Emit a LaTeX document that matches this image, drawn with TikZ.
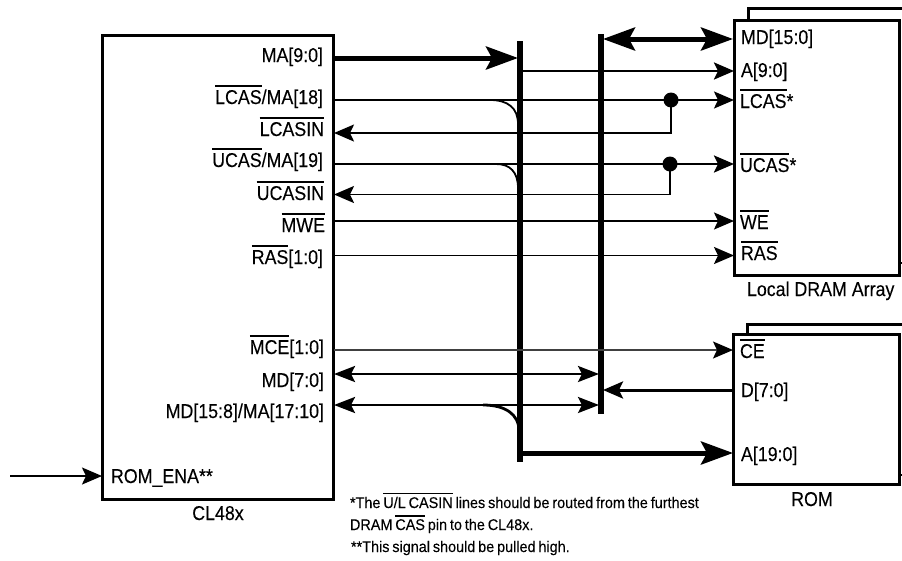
\documentclass[tikz,border=0pt]{standalone}
\usepackage{fontspec}
\setmainfont[FakeStretch=0.89,FakeBold=0.15]{Liberation Sans}
\newfontfamily\notefont[FakeStretch=0.93,WordSpace=0.72,FakeBold=0.12]{Liberation Sans}
\usetikzlibrary{arrows.meta}
\newcommand\ovl[1]{\leavevmode\vbox{\hrule height 0.075em\kern 0.17em\hbox{#1}}}
\newcommand\lbl{\fontsize{20}{22}\selectfont}
\newcommand\fnt{\notefont\fontsize{15.5}{17}\selectfont}
\tikzset{
  boxx/.style={draw=black,line width=3pt,fill=white,rectangle,inner sep=0pt},
  lab/.style={inner sep=0pt,outer sep=0pt,font=\lbl,text=black},
  labr/.style={lab,anchor=base east},
  labl/.style={lab,anchor=base west},
  note/.style={inner sep=0pt,outer sep=0pt,font=\fnt,anchor=base west},
  bus/.style={line width=5.5pt,line cap=butt},
  sig/.style={line width=1.9pt},
  med/.style={line width=2.6pt},
  hvy/.style={line width=5pt},
  tipS/.style={-{Stealth[length=20pt,width=17pt,inset=4pt,color=black]}},
  tipL/.style={-{Stealth[length=32pt,width=23pt,inset=6pt]}},
  tipB/.style={{Stealth[length=21pt,width=16pt,inset=4pt]}-{Stealth[length=21pt,width=16pt,inset=4pt]}},
  tipD/.style={{Stealth[length=32pt,width=23pt,inset=6pt]}-{Stealth[length=32pt,width=23pt,inset=6pt]}},
  dotn/.style={circle,fill=black,inner sep=0pt,minimum size=15pt},
}
\begin{document}
\begin{tikzpicture}[x=1pt,y=-1pt]
\useasboundingbox (0,0) rectangle (902,560);
% back sheets
\coordinate (dbk0) at (748,20); \coordinate (dbk1) at (748,8); \coordinate (dbk2) at (902,8);
\coordinate (rbk0) at (747,334); \coordinate (rbk1) at (747,324); \coordinate (rbk2) at (902,324);
\draw[line width=3pt] (dbk0) -- (dbk1) -- (dbk2);
\draw[line width=3pt] (rbk0) -- (rbk1) -- (rbk2);
\coordinate (dtk0) at (899,263); \coordinate (dtk1) at (902,263);
\coordinate (rtk0) at (899,475); \coordinate (rtk1) at (902,475);
\draw[line width=2.5pt] (dtk0) -- (dtk1);
\draw[line width=2.5pt] (rtk0) -- (rtk1);
% boxes
\node[boxx,minimum width=231pt,minimum height=464pt] (cpu) at (217.5,267) {};
\node[boxx,minimum width=165pt,minimum height=255pt] (dram) at (816.5,147.5) {};
\node[boxx,minimum width=166pt,minimum height=150pt] (rom) at (816,409) {};
% buses
\coordinate (b1t) at (520,41); \coordinate (b1b) at (520,462);
\coordinate (b2t) at (601,34); \coordinate (b2b) at (601,414);
\draw[bus] (b1t) -- (b1b);
\draw[bus] (b2t) -- (b2b);
% pins
\coordinate (pma) at (334,58);   \coordinate (pb1ma) at (518,58);
\coordinate (b1a) at (520,71);   \coordinate (da) at (734,71);
\coordinate (b2md) at (603,39);  \coordinate (dmd) at (733,39);
\coordinate (plc) at (334,100);  \coordinate (dlc) at (734,100);
\coordinate (plci) at (334,133); \coordinate (jl) at (671,133);
\coordinate (puc) at (334,164);  \coordinate (duc) at (734,164);
\coordinate (puci) at (334,194.5); \coordinate (ju) at (670,194.5);
\coordinate (pwe) at (334,221);  \coordinate (dwe) at (734,221);
\coordinate (pras) at (334,255.5); \coordinate (dras) at (734,255.5);
\coordinate (pce) at (334,350);  \coordinate (rce) at (733,350);
\coordinate (pmdl) at (334,374); \coordinate (b2l) at (599,374);
\coordinate (pmdh) at (334,405); \coordinate (b2h) at (599,405);
\coordinate (rd) at (733,390);   \coordinate (b2d) at (603,390);
\coordinate (b1r) at (520,453);  \coordinate (ra) at (733,453);
\coordinate (ena0) at (10,476);  \coordinate (ena1) at (102,476);
% junction dots
\node[dotn] (dl) at (671,100) {};
\node[dotn] (du) at (670,164) {};
% connectors
\draw[hvy,tipL] (pma) -- (pb1ma);
\draw[med,tipS] (b1a) -- (da);
\draw[hvy,tipD] (b2md) -- (dmd);
\draw[sig,tipS] (plc) -- (dlc);
\draw[sig,tipS] (dl.center) -- (jl) -- (plci);
\draw[med,tipS] (puc) -- (duc);
\draw[sig,tipS] (du.center) -- (ju) -- (puci);
\draw[sig,tipS] (pwe) -- (dwe);
\draw[sig,tipS] (pras) -- (dras);
\draw[line width=1.6pt,draw=black!75,tipS] (pce) -- (rce);
\draw[med,tipB] (pmdl) -- (b2l);
\draw[med,tipB] (pmdh) -- (b2h);
\draw[line width=3pt,tipS] (rd) -- (b2d);
\draw[hvy,tipL] (b1r) -- (ra);
\draw[sig,tipS] (ena0) -- (ena1);
% bus take-off curves
\coordinate (c1s) at (490,100); \coordinate (c1e) at (518,124);
\coordinate (c2s) at (496,164); \coordinate (c2e) at (518,188);
\coordinate (c3s) at (483,405); \coordinate (c3e) at (519,431);
\draw[line width=1.8pt] (c1s) .. controls (508,100) and (518,108) .. (c1e);
\draw[line width=1.8pt] (c2s) .. controls (510,164) and (518,172) .. (c2e);
\draw[line width=2.8pt] (c3s) .. controls (505,405) and (519,414) .. (c3e);
% CPU labels
\node[labr] (t1) at (323,62) {MA[9:0]};
\node[labr] (t2) at (323,104) {\ovl{LCAS}/MA[18]};
\node[labr] (t3) at (324,136) {\ovl{LCASIN}};
\node[labr] (t4) at (323,167) {\ovl{UCAS}/MA[19]};
\node[labr] (t5) at (324,200) {\ovl{UCASIN}};
\node[labr] (t6) at (325,232) {\ovl{MWE}};
\node[labr] (t7) at (323,264) {\ovl{RAS}[1:0]};
\node[labr] (t8) at (324,354) {\ovl{MCE}[1:0]};
\node[labr] (t9) at (324,387) {MD[7:0]};
\node[labr] (t10) at (324,418) {MD[15:8]/MA[17:10]};
\node[labl] (t11) at (111,483) {ROM\_ENA**};
\node[lab,anchor=base] (t12) at (218,520) {CL48x};
% DRAM labels
\node[labl] (d1) at (741,44) {MD[15:0]};
\node[labl] (d2) at (741,77) {A[9:0]};
\node[labl] (d3) at (740,108) {\ovl{LCAS}*};
\node[labl] (d4) at (740,172) {\ovl{UCAS}*};
\node[labl] (d5) at (740,229) {\ovl{WE}};
\node[labl] (d6) at (741,260) {\ovl{RAS}};
\node[labl] (d7) at (747,296) {Local DRAM Array};
% ROM labels
\node[labl] (r1) at (740,358) {\ovl{CE}};
\node[labl] (r2) at (741,397) {D[7:0]};
\node[labl] (r3) at (741,461) {A[19:0]};
\node[lab,anchor=base] (r4) at (812,506) {ROM};
% notes
\node[note] (n1) at (350,508) {*The \ovl{U/L CASIN} lines should be routed from the furthest};
\node[note] (n2) at (350,530) {DRAM \ovl{CAS} pin to the CL48x.};
\node[note] (n3) at (351,552) {**This signal should be pulled high.};
\end{tikzpicture}
\end{document}
